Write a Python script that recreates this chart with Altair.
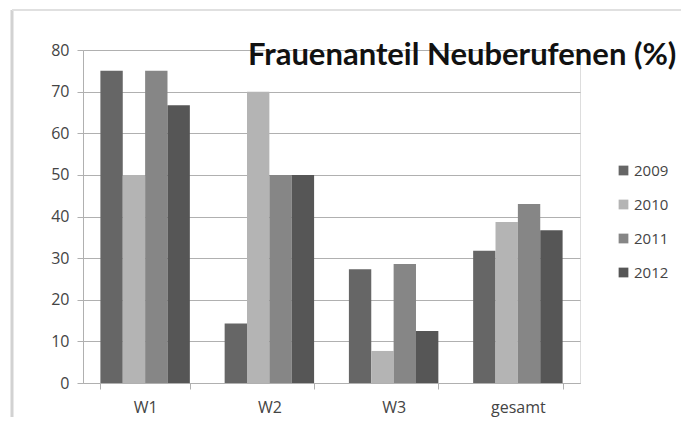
import altair as alt
import pandas as pd

categories = ["W1", "W2", "W3", "gesamt"]
years = ["2009", "2010", "2011", "2012"]
v2009 = [75, 14.3, 27.3, 31.8]
v2010 = [50, 70, 7.7, 38.7]
v2011 = [75, 50, 28.6, 43]
v2012 = [66.7, 50, 12.5, 36.7]
colors = ["#666666", "#b4b4b4", "#868686", "#565656"]
title_text = "Frauenanteil Neuberufenen (%)"

rows = []
for y, vals in zip(years, [v2009, v2010, v2011, v2012]):
    for c, v in zip(categories, vals):
        rows.append({"Kategorie": c, "Jahr": y, "Wert": v})
df = pd.DataFrame(rows)

font = "Open Sans"
one = pd.DataFrame({"t": [title_text]})

frame_left = alt.Chart(one).mark_rule(stroke="#d2d2d2", strokeWidth=3).encode(
    x=alt.value(-71), y=alt.value(-40), y2=alt.value(420))
frame_top = alt.Chart(one).mark_rule(stroke="#e0e0e0", strokeWidth=2).encode(
    x=alt.value(-71), x2=alt.value(700), y=alt.value(-40))

bars = alt.Chart(df).mark_bar().encode(
    x=alt.X("Kategorie:N", sort=categories,
            scale=alt.Scale(paddingInner=0.28, paddingOuter=0.14),
            axis=alt.Axis(title=None, labelAngle=0, labelFont=font, labelFontSize=16,
                          labelColor="#444444", domainColor="#b0b0b0", tickColor="#b0b0b0",
                          tickSize=6, labelPadding=10, tickBand="extent", grid=False)),
    xOffset=alt.XOffset("Jahr:N", sort=years),
    y=alt.Y("Wert:Q", scale=alt.Scale(domain=[0, 80]),
            axis=alt.Axis(title=None, values=list(range(0, 81, 10)), labelFont=font,
                          labelFontSize=16, labelColor="#444444", domainColor="#b0b0b0",
                          tickColor="#b0b0b0", tickSize=6, labelPadding=8,
                          gridColor="#b0b0b0", gridWidth=1.2)),
    color=alt.Color("Jahr:N", sort=years, scale=alt.Scale(domain=years, range=colors),
                    legend=alt.Legend(title=None, orient="none", legendX=533, legendY=113,
                                      symbolType="square", symbolSize=95, symbolStrokeWidth=0,
                                      labelFont=font, labelFontSize=15, labelColor="#444444",
                                      rowPadding=18, labelOffset=3)),
)

title = alt.Chart(one).mark_text(
    font="Lato", fontSize=31, fontWeight="bold", color="#111111",
    align="left", baseline="alphabetic"
).encode(text="t:N", x=alt.value(165), y=alt.value(15))

chart = alt.layer(frame_left, frame_top, bars, title).properties(
    width=497, height=333,
    autosize=alt.AutoSizeParams(type="none"),
    padding={"left": 75, "top": 42, "right": 101, "bottom": 34},
).configure_view(stroke=None).configure(background="white")

chart.save("out.html", embed_options={"renderer": "svg", "actions": False})
